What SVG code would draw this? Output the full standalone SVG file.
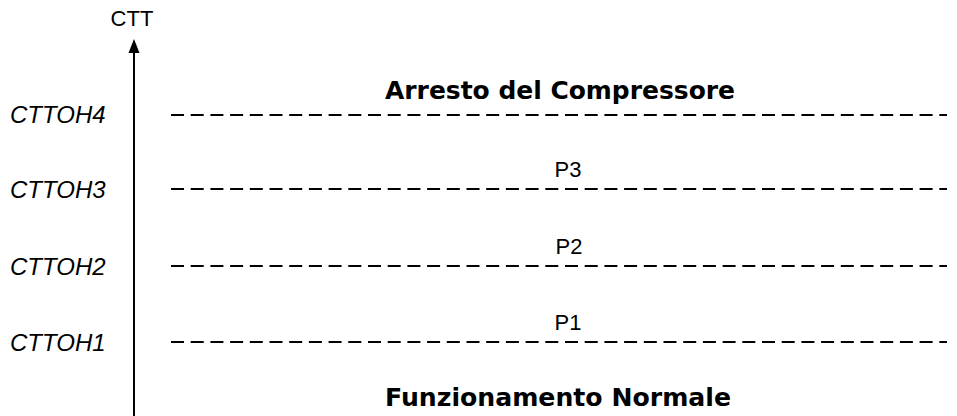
<svg xmlns="http://www.w3.org/2000/svg" width="957" height="416" viewBox="0 0 957 416">
<style>
.lvl{font-family:"Liberation Sans",Arial,sans-serif;font-size:24px;font-style:italic;fill:#000}
.p{font-family:"Liberation Sans",Arial,sans-serif;font-size:22px;fill:#000;text-anchor:middle}
.zone{font-family:"DejaVu Sans",Verdana,sans-serif;font-size:24.5px;font-weight:bold;fill:#000;text-anchor:middle}
.dash{stroke:#000;stroke-width:2;stroke-dasharray:13 6.7;fill:none}
</style>
<rect width="957" height="416" fill="#fff"/>
<g id="axis">
<line x1="134" y1="50" x2="134" y2="416" stroke="#000" stroke-width="2"/>
<polygon points="134,39 128.5,53 139.5,53" fill="#000"/>
<text x="132" y="26" class="p">CTT</text>
</g>
<g id="thresholds">
<line class="dash" x1="171" y1="115" x2="947" y2="115"/>
<line class="dash" x1="171" y1="189" x2="947" y2="189"/>
<line class="dash" x1="171" y1="266" x2="947" y2="266"/>
<line class="dash" x1="171" y1="342" x2="947" y2="342"/>
</g>
<g id="labels">
<text x="10" y="123" class="lvl">CTTOH4</text>
<text x="10" y="198" class="lvl">CTTOH3</text>
<text x="10" y="275" class="lvl">CTTOH2</text>
<text x="10" y="351" class="lvl">CTTOH1</text>
</g>
<g id="zones">
<text x="560" y="99" class="zone" textLength="350" lengthAdjust="spacingAndGlyphs">Arresto del Compressore</text>
<text x="568" y="177" class="p">P3</text>
<text x="569" y="254" class="p">P2</text>
<text x="568" y="330" class="p">P1</text>
<text x="558" y="406" class="zone" textLength="346" lengthAdjust="spacingAndGlyphs">Funzionamento Normale</text>
</g>
</svg>
